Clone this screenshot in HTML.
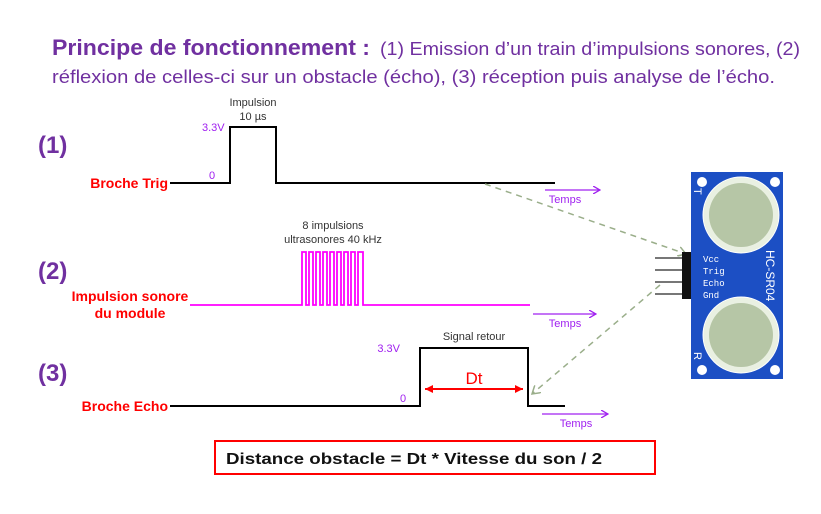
<!DOCTYPE html>
<html><head><meta charset="utf-8"><style>
html,body{margin:0;padding:0;background:#fff;}
svg{display:block;font-family:"Liberation Sans",sans-serif;}
</style></head><body>
<svg width="821" height="514" viewBox="0 0 821 514" xmlns="http://www.w3.org/2000/svg">
<defs>
<marker id="pa" markerWidth="8" markerHeight="8" refX="7" refY="4" orient="auto" markerUnits="userSpaceOnUse"><path d="M0,0 L7,4 L0,8" fill="none" stroke="#a020f0" stroke-width="1.3"/></marker>
<marker id="ga" markerWidth="10" markerHeight="10" refX="8" refY="5" orient="auto" markerUnits="userSpaceOnUse"><path d="M0,0 L8,5 L0,10" fill="none" stroke="#9aae8a" stroke-width="1.5"/></marker>
<marker id="ra" markerWidth="10" markerHeight="10" refX="8" refY="5" orient="auto-start-reverse" markerUnits="userSpaceOnUse"><path d="M0,1 L8,5 L0,9 z" fill="#f00"/></marker>
</defs>
<g fill="#7030a0">
<text x="52" y="55" font-size="22" font-weight="bold" textLength="318" lengthAdjust="spacingAndGlyphs">Principe de fonctionnement :</text>
<text x="380" y="55" font-size="18" textLength="420" lengthAdjust="spacingAndGlyphs">(1) Emission d’un train d’impulsions sonores, (2)</text>
<text x="52" y="83" font-size="18" textLength="723" lengthAdjust="spacingAndGlyphs">réflexion de celles-ci sur un obstacle (écho), (3) réception puis analyse de l’écho.</text>
<text x="38" y="153" font-size="24" font-weight="bold">(1)</text>
<text x="38" y="279" font-size="24" font-weight="bold">(2)</text>
<text x="38" y="381" font-size="24" font-weight="bold">(3)</text>
</g>
<g fill="#f00" font-weight="bold" font-size="14">
<text x="168" y="188" text-anchor="end">Broche Trig</text>
<text x="130" y="301" text-anchor="middle">Impulsion sonore</text>
<text x="130" y="318" text-anchor="middle">du module</text>
<text x="168" y="411" text-anchor="end">Broche Echo</text>
</g>
<path d="M170,183 H230 V127 H276 V183 H555" fill="none" stroke="#000" stroke-width="2"/>
<g fill="#a020f0" font-size="11">
<text x="202" y="131">3.3V</text><text x="209" y="179">0</text>
<text x="400" y="352" text-anchor="end">3.3V</text><text x="400" y="402">0</text>
<text x="565" y="203" text-anchor="middle">Temps</text>
<text x="565" y="327" text-anchor="middle">Temps</text>
<text x="576" y="427" text-anchor="middle">Temps</text>
</g>
<g fill="#333" font-size="11" text-anchor="middle">
<text x="253" y="106">Impulsion</text><text x="253" y="120">10 µs</text>
<text x="333" y="229">8 impulsions</text><text x="333" y="243">ultrasonores 40 kHz</text>
<text x="474" y="340">Signal retour</text>
</g>
<line x1="545" y1="190" x2="600" y2="190" stroke="#a020f0" stroke-width="1.3" marker-end="url(#pa)"/>
<line x1="533" y1="314" x2="596" y2="314" stroke="#a020f0" stroke-width="1.3" marker-end="url(#pa)"/>
<line x1="542" y1="414" x2="608" y2="414" stroke="#a020f0" stroke-width="1.3" marker-end="url(#pa)"/>
<path d="M190,305 H302 V252 H306 V305 H309 V252 H313 V305 H316 V252 H320 V305 H323 V252 H327 V305 H330 V252 H334 V305 H337 V252 H341 V305 H344 V252 H348 V305 H351 V252 H355 V305 H358 V252 H363 V305 H530" fill="none" stroke="#f0f" stroke-width="1.8"/>
<path d="M170,406 H420 V348 H528 V406 H565" fill="none" stroke="#000" stroke-width="2"/>
<line x1="425" y1="389" x2="523" y2="389" stroke="#f00" stroke-width="2" marker-start="url(#ra)" marker-end="url(#ra)"/>
<text x="474" y="384" fill="#f00" font-size="17" text-anchor="middle">Dt</text>
<line x1="485" y1="184" x2="686" y2="254" stroke="#9aae8a" stroke-width="1.5" stroke-dasharray="6,5" marker-end="url(#ga)"/>
<line x1="660" y1="285" x2="532" y2="394" stroke="#9aae8a" stroke-width="1.5" stroke-dasharray="6,5" marker-end="url(#ga)"/>
<g>
<line x1="655" y1="258" x2="684" y2="258" stroke="#777" stroke-width="2"/>
<line x1="655" y1="270" x2="684" y2="270" stroke="#777" stroke-width="2"/>
<line x1="655" y1="282" x2="684" y2="282" stroke="#777" stroke-width="2"/>
<line x1="655" y1="294" x2="684" y2="294" stroke="#777" stroke-width="2"/>
<rect x="682" y="252" width="10" height="47" fill="#111"/>
<rect x="691" y="172" width="92" height="207" fill="#1c4fc4"/>
<circle cx="702" cy="182" r="5" fill="#fff"/><circle cx="775" cy="182" r="5" fill="#fff"/>
<circle cx="702" cy="370" r="5" fill="#fff"/><circle cx="775" cy="370" r="5" fill="#fff"/>
<circle cx="741" cy="215" r="38" fill="#e9f0e2" stroke="#fff" stroke-width="1"/><circle cx="741" cy="215" r="32" fill="#b6c6a6"/>
<circle cx="741" cy="335" r="38" fill="#e9f0e2" stroke="#fff" stroke-width="1"/><circle cx="741" cy="335" r="32" fill="#b6c6a6"/>
<g fill="#fff" font-size="9" font-family="Liberation Mono,monospace">
<text x="703" y="262">Vcc</text><text x="703" y="274">Trig</text><text x="703" y="286">Echo</text><text x="703" y="298">Gnd</text>
</g>
<text x="766" y="250" fill="#fff" font-size="12" transform="rotate(90 766 250)">HC-SR04</text>
<text x="694" y="188" fill="#fff" font-size="11" transform="rotate(90 694 188)">T</text>
<text x="694" y="352" fill="#fff" font-size="11" transform="rotate(90 694 352)">R</text>
</g>
<rect x="215" y="441" width="440" height="33" fill="#fff" stroke="#f00" stroke-width="2"/>
<text x="226" y="464" font-size="16" font-weight="bold" fill="#111" textLength="376" lengthAdjust="spacingAndGlyphs">Distance obstacle = Dt * Vitesse du son / 2</text>
</svg>
</body></html>
